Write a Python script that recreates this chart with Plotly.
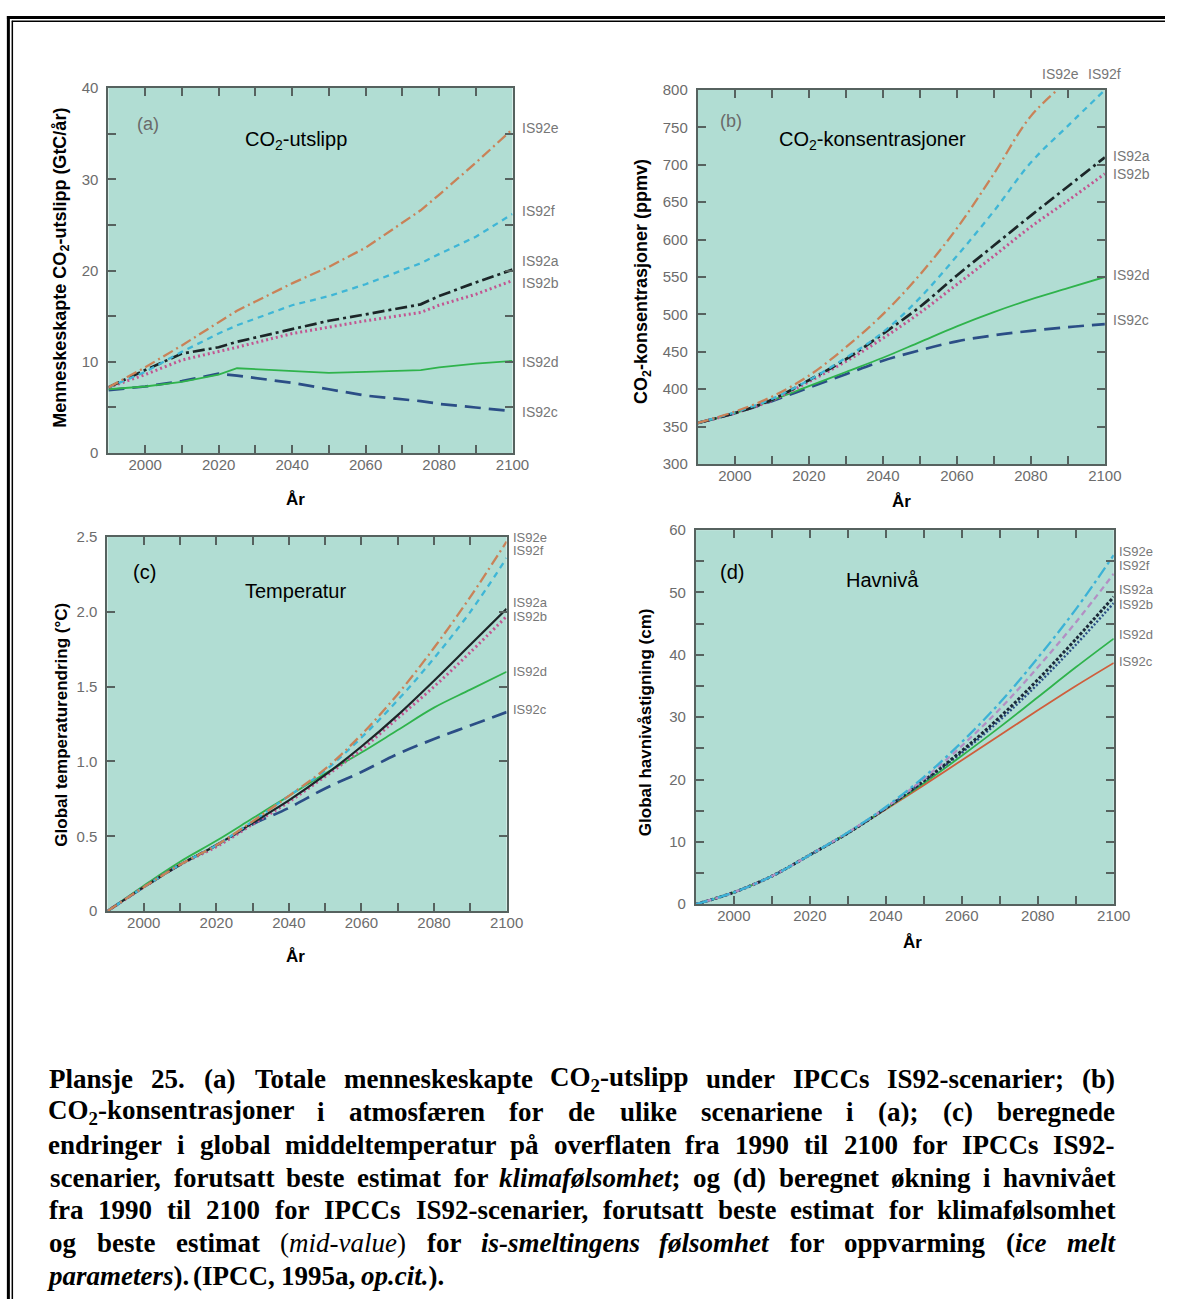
import plotly.graph_objects as go

W, H = 1182, 1307


def px(x):
    return x / W


def py(y):
    return 1 - y / H


# ---------------- data ----------------
SCENARIOS = ["IS92c", "IS92d", "IS92b", "IS92a", "IS92f", "IS92e"]

# (a) CO2 emissions, GtC/yr
EMIS_YEARS = [1990, 2000, 2010, 2020, 2025, 2040, 2050, 2060, 2075, 2080, 2090, 2100]
EMIS = {
    "IS92e": [7.2, 9.4, 11.8, 14.3, 15.6, 18.6, 20.4, 22.5, 26.6, 28.3, 31.8, 35.5],
    "IS92f": [7.2, 8.9, 11.1, 13.1, 14.0, 16.2, 17.2, 18.5, 20.8, 21.8, 23.7, 26.2],
    "IS92a": [7.2, 9.1, 10.9, 11.6, 12.2, 13.6, 14.5, 15.2, 16.3, 17.2, 18.7, 20.1],
    "IS92b": [7.2, 8.6, 10.2, 11.1, 11.6, 13.1, 13.8, 14.5, 15.4, 16.2, 17.4, 18.9],
    "IS92d": [7.0, 7.3, 7.8, 8.6, 9.3, 9.0, 8.8, 8.9, 9.1, 9.4, 9.8, 10.1],
    "IS92c": [6.9, 7.3, 7.9, 8.7, 8.5, 7.7, 7.0, 6.3, 5.7, 5.4, 5.0, 4.6],
}

YEARS = [1990, 2000, 2010, 2020, 2030, 2040, 2050, 2060, 2070, 2080, 2090, 2100]

# (b) CO2 concentration, ppmv
CONC = {
    "IS92e": [355, 370, 390, 418, 456, 500, 553, 615, 688, 765, 812],
    "IS92f": [355, 369, 387, 412, 442, 476, 522, 578, 638, 703, 752, 800],
    "IS92a": [355, 368, 386, 412, 440, 474, 510, 552, 592, 632, 671, 710],
    "IS92b": [355, 368, 385, 410, 437, 468, 502, 540, 578, 617, 652, 688],
    "IS92d": [355, 368, 385, 404, 423, 442, 463, 484, 503, 520, 535, 550],
    "IS92c": [355, 368, 384, 402, 420, 438, 452, 464, 472, 478, 483, 487],
}

# (c) temperature change, deg C
TEMP = {
    "IS92e": [0, 0.16, 0.31, 0.44, 0.60, 0.77, 0.95, 1.18, 1.45, 1.76, 2.10, 2.47],
    "IS92f": [0, 0.16, 0.31, 0.44, 0.60, 0.77, 0.94, 1.16, 1.41, 1.69, 2.00, 2.36],
    "IS92a": [0, 0.16, 0.31, 0.44, 0.59, 0.74, 0.91, 1.10, 1.31, 1.54, 1.78, 2.02],
    "IS92b": [0, 0.16, 0.31, 0.43, 0.58, 0.73, 0.90, 1.08, 1.29, 1.50, 1.73, 1.97],
    "IS92d": [0, 0.17, 0.33, 0.47, 0.62, 0.77, 0.92, 1.06, 1.21, 1.36, 1.48, 1.60],
    "IS92c": [0, 0.16, 0.31, 0.44, 0.58, 0.69, 0.82, 0.93, 1.05, 1.15, 1.24, 1.33],
}

# (d) sea level rise, cm
SEA = {
    "IS92e": [0, 1.9, 4.5, 7.9, 11.5, 15.6, 20.4, 26.0, 32.3, 39.5, 47.3, 56.0],
    "IS92f": [0, 1.9, 4.5, 7.9, 11.5, 15.5, 20.1, 25.4, 31.3, 38.0, 45.2, 53.0],
    "IS92a": [0, 1.9, 4.5, 7.9, 11.4, 15.4, 19.8, 24.6, 30.0, 36.0, 42.5, 49.3],
    "IS92b": [0, 1.9, 4.5, 7.9, 11.4, 15.4, 19.7, 24.3, 29.5, 35.3, 41.6, 48.3],
    "IS92d": [0, 1.9, 4.5, 7.9, 11.4, 15.3, 19.4, 23.8, 28.4, 33.2, 38.0, 42.6],
    "IS92c": [0, 1.9, 4.5, 7.9, 11.4, 15.2, 19.1, 23.1, 27.1, 31.1, 35.0, 38.7],
}

# right-hand scenario label heights (data units)
LAB_A = {"IS92e": 35.6, "IS92f": 26.5, "IS92a": 21.1, "IS92b": 18.6, "IS92d": 10.0, "IS92c": 4.5}
LAB_B = {"IS92a": 712, "IS92b": 688, "IS92d": 553, "IS92c": 492}
LAB_B_TOP = {"IS92e": 2088, "IS92f": 2100}
LAB_C = {"IS92e": 2.50, "IS92f": 2.41, "IS92a": 2.06, "IS92b": 1.97, "IS92d": 1.60, "IS92c": 1.35}
LAB_D = {"IS92e": 56.6, "IS92f": 54.3, "IS92a": 50.4, "IS92b": 48.1, "IS92d": 43.2, "IS92c": 38.9}

CAPTION_LINES = [
    "Plansje 25. (a) Totale menneskeskapte CO_2-utslipp under IPCCs IS92-scenarier; (b)",
    "CO_2-konsentrasjoner i atmosfæren for de ulike scenariene i (a); (c) beregnede",
    "endringer i global middeltemperatur på overflaten fra 1990 til 2100 for IPCCs IS92-",
    "scenarier, forutsatt beste estimat for *klimafølsomhet*; og (d) beregnet økning i havnivået",
    "fra 1990 til 2100 for IPCCs IS92-scenarier, forutsatt beste estimat for klimafølsomhet",
    "og beste estimat {(}~mid-value~{)} for *is-smeltingens* *følsomhet* for oppvarming (*ice* *melt*",
    "*parameters*). (IPCC, 1995a, *op.cit.*).",
]

# ---------------- styles ----------------
STYLE_ABC = {
    "IS92e": dict(color="#c98258", dash="11px,4px,2px,4px", width=2.3),
    "IS92f": dict(color="#3fb6d6", dash="6px,5px", width=2.3),
    "IS92a": dict(color="#1c2628", dash="12px,4px,3px,4px", width=2.7),
    "IS92b": dict(color="#c25591", dash="2px,3px", width=3),
    "IS92d": dict(color="#2fb34c", dash="solid", width=1.8),
    "IS92c": dict(color="#2b4e86", dash="16px,8px", width=2.7),
}
STYLE_C = dict(STYLE_ABC)
STYLE_C["IS92a"] = dict(color="#1c2628", dash="solid", width=2.2)
STYLE_D = {
    "IS92e": dict(color="#3cb2d6", dash="12px,4px,3px,4px", width=2.3),
    "IS92f": dict(color="#b38fc4", dash="6px,4px", width=2.3),
    "IS92a": dict(color="#1c2a3a", dash="3px,2px", width=3),
    "IS92b": dict(color="#2b4e86", dash="2px,2px", width=2.4),
    "IS92d": dict(color="#2fb34c", dash="solid", width=1.8),
    "IS92c": dict(color="#cf5e3c", dash="solid", width=1.8),
}

SANS = "Liberation Sans, Arial, sans-serif"
SERIF = "Liberation Serif, Times New Roman, serif"
TICK_FONT = dict(family=SANS, size=15, color="#6c6c6c")
AX_COLOR = "#56625f"
BG = "#b1ddd3"

PANELS = [
    dict(x=(110, 520), y=(80, 450)),
    dict(x=(708, 1121), y=(82, 461)),
    dict(x=(109, 514), y=(535, 914)),
    dict(x=(706, 1130), y=(528, 907)),
]

fig = go.Figure()

for i, (data, xs, sty, shape) in enumerate([
    (EMIS, EMIS_YEARS, STYLE_ABC, "linear"),
    (CONC, YEARS, STYLE_ABC, "spline"),
    (TEMP, YEARS, STYLE_C, "spline"),
    (SEA, YEARS, STYLE_D, "spline"),
]):
    sfx = "" if i == 0 else str(i + 1)
    for s in SCENARIOS:
        vals = data[s]
        fig.add_trace(go.Scatter(
            x=xs[:len(vals)], y=vals, mode="lines", showlegend=False,
            line=dict(shape=shape, **sty[s]),
            xaxis="x" + sfx, yaxis="y" + sfx, hoverinfo="skip",
        ))

layout_axes = {}
yspecs = [
    dict(range=[0, 40], tickvals=[0, 10, 20, 30, 40], minor=5),
    dict(range=[300, 800], tickvals=list(range(300, 801, 50)), minor=None),
    dict(range=[0, 2.5], tickvals=[0, 0.5, 1.0, 1.5, 2.0, 2.5],
         ticktext=["0", "0.5", "1.0", "1.5", "2.0", "2.5"], minor=None),
    dict(range=[0, 60], tickvals=[0, 10, 20, 30, 40, 50, 60], minor=5),
]
for i, p in enumerate(PANELS):
    sfx = "" if i == 0 else str(i + 1)
    common = dict(showline=True, linecolor=AX_COLOR, linewidth=2, mirror="allticks",
                  ticks="inside", ticklen=8, tickwidth=1.5, tickcolor=AX_COLOR,
                  showgrid=False, zeroline=False, tickfont=TICK_FONT)
    xa = dict(common, domain=[px(p["x"][0]), px(p["x"][1])], range=[1990, 2100],
              tickvals=[2000, 2020, 2040, 2060, 2080, 2100], ticklabelstandoff=-3,
              minor=dict(ticks="inside", ticklen=8, tickwidth=1.5, tickcolor=AX_COLOR, dtick=10, tick0=1990),
              anchor="y" + sfx)
    ys = yspecs[i]
    ya = dict(common, domain=[py(p["y"][1]), py(p["y"][0])], range=ys["range"],
              tickvals=ys["tickvals"], ticklabelstandoff=5, anchor="x" + sfx)
    if "ticktext" in ys:
        ya["ticktext"] = ys["ticktext"]
    if ys["minor"]:
        ya["minor"] = dict(ticks="inside", ticklen=8, tickwidth=1.5, tickcolor=AX_COLOR,
                           dtick=ys["minor"], tick0=0)
    layout_axes["xaxis" + sfx] = xa
    layout_axes["yaxis" + sfx] = ya

ann = []


def txt(x, y, text, size, color="black", bold=False, angle=0, xanchor="center", family=SANS):
    t = "<b>" + text + "</b>" if bold else text
    ann.append(dict(x=px(x), y=py(y), xref="paper", yref="paper", text=t, showarrow=False,
                    textangle=angle, xanchor=xanchor, yanchor="middle",
                    font=dict(family=family, size=size, color=color)))


# axis titles
txt(62, 262, "Menneskeskapte CO<sub>2</sub>-utslipp (GtC/år)", 18, bold=True, angle=-90)
txt(652, 276, "CO<sub>2</sub>-konsentrasjoner (ppmv)", 18, bold=True, angle=-90)
txt(62, 725, "Global temperaturendring (°C)", 17, bold=True, angle=-90)
txt(655, 723, "Global havnivåstigning (cm)", 17, bold=True, angle=-90)
txt(300, 497, "År", 17, bold=True)
txt(915, 499, "År", 17, bold=True)
txt(300, 960, "År", 17, bold=True)
txt(926, 946, "År", 17, bold=True)

# panel letters and titles
txt(150, 117, "(a)", 18, color="#6a6a6a")
txt(742, 113, "(b)", 18, color="#6a6a6a")
txt(147, 570, "(c)", 20)
txt(743, 570, "(d)", 20)
txt(300, 133, "CO<sub>2</sub>-utslipp", 20)
txt(885, 133, "CO<sub>2</sub>-konsentrasjoner", 20)
txt(300, 590, "Temperatur", 20)
txt(895, 579, "Havnivå", 20)

LAB_COLOR = "#777777"
for lab, yref, xstart, size in [(LAB_A, "y", 528, 14), (LAB_B, "y2", 1127, 14),
                                 (LAB_C, "y3", 518, 13), (LAB_D, "y4", 1133, 13)]:
    for s, v in lab.items():
        ann.append(dict(x=px(xstart), y=v, xref="paper", yref=yref, text=s, showarrow=False,
                        xanchor="left", yanchor="middle",
                        font=dict(family=SANS, size=size, color=LAB_COLOR)))
for s, yr in LAB_B_TOP.items():
    ann.append(dict(x=yr, y=py(66), xref="x2", yref="paper", text=s, showarrow=False,
                    xanchor="center", yanchor="middle",
                    font=dict(family=SANS, size=14, color=LAB_COLOR)))

# ---------------- caption (justified, word by word) ----------------
TB = {' ': 250, '(': 333, ')': 333, ',': 250, '-': 333, '.': 250, ';': 333, ':': 333,
      'A': 722, 'B': 667, 'C': 722, 'D': 722, 'E': 667, 'F': 611, 'G': 778, 'H': 778, 'I': 389,
      'J': 500, 'K': 778, 'L': 667, 'M': 944, 'N': 722, 'O': 778, 'P': 611, 'Q': 778, 'R': 722,
      'S': 556, 'T': 667, 'U': 722, 'V': 722, 'W': 1000, 'X': 722, 'Y': 722, 'Z': 667,
      'a': 500, 'b': 556, 'c': 444, 'd': 556, 'e': 444, 'f': 333, 'g': 500, 'h': 556, 'i': 278,
      'j': 333, 'k': 556, 'l': 278, 'm': 833, 'n': 556, 'o': 500, 'p': 556, 'q': 556, 'r': 444,
      's': 389, 't': 333, 'u': 556, 'v': 500, 'w': 722, 'x': 500, 'y': 500, 'z': 444,
      'æ': 722, 'ø': 500, 'å': 500}
TBI = dict(TB)
TBI.update({'b': 500, 'd': 500, 'j': 278, 'k': 500, 'm': 778, 'p': 500, 'q': 500, 'r': 389,
            't': 278, 'v': 444, 'w': 667, 'y': 444, 'z': 389})
TI = dict(TBI)
TI.update({'m': 722, 'u': 500, 'n': 500, 'h': 500})
TR = dict(TB)


def parse_word(word):
    segs, cur = [], ""
    st = {"bi": False, "i": False, "r": False}

    def style():
        return "bi" if st["bi"] else ("i" if st["i"] else ("r" if st["r"] else "b"))

    k = 0
    while k < len(word):
        ch = word[k]
        if ch in "*~{}_":
            if cur:
                segs.append((cur, style()))
                cur = ""
            if ch == "*":
                st["bi"] = not st["bi"]
            elif ch == "~":
                st["i"] = not st["i"]
            elif ch == "{":
                st["r"] = True
            elif ch == "}":
                st["r"] = False
            else:
                segs.append((word[k + 1], "sub"))
                k += 1
        else:
            cur += ch
        k += 1
    if cur:
        segs.append((cur, style()))
    return segs


def seg_html(t, s):
    return {"b": "<b>%s</b>", "bi": "<b><i>%s</i></b>", "i": "<i>%s</i>",
            "r": "%s", "sub": "<b><sub>%s</sub></b>"}[s] % t


def seg_width(t, s, fs):
    table = {"b": TB, "bi": TBI, "i": TI, "r": TR, "sub": TB}[s]
    w = sum(table.get(c, 500) for c in t) * fs / 1000
    return w * 0.7 if s == "sub" else w


CAP_FS = 27
CAP_X0, CAP_X1 = 50, 1131
CAP_Y0, CAP_DY = 1084, 33.3
for li, line in enumerate(CAPTION_LINES):
    words = line.split(" ")
    parsed = [parse_word(w) for w in words]
    widths = [sum(seg_width(t, s, CAP_FS) for t, s in p) for p in parsed]
    last = li == len(CAPTION_LINES) - 1
    gap = 0.25 * CAP_FS if last else (CAP_X1 - CAP_X0 - sum(widths)) / (len(words) - 1)
    x = CAP_X0
    yy = CAP_Y0 + li * CAP_DY
    for p, w in zip(parsed, widths):
        html = "".join(seg_html(t, s) for t, s in p)
        ann.append(dict(x=px(x + w / 2), y=py(yy), xref="paper", yref="paper", text=html,
                        showarrow=False, xanchor="center", yanchor="middle",
                        font=dict(family=SERIF, size=CAP_FS, color="black")))
        x += w + gap

# ---------------- frame ----------------
shapes = [
    dict(type="line", xref="paper", yref="paper", x0=px(7), x1=1, y0=py(8.5), y1=py(8.5),
         line=dict(color="black", width=3)),
    dict(type="line", xref="paper", yref="paper", x0=px(12), x1=1, y0=py(12.5), y1=py(12.5),
         line=dict(color="black", width=1.5)),
    dict(type="line", xref="paper", yref="paper", x0=px(8.5), x1=px(8.5), y0=py(7), y1=0,
         line=dict(color="black", width=3)),
    dict(type="line", xref="paper", yref="paper", x0=px(12.5), x1=px(12.5), y0=py(12), y1=0,
         line=dict(color="black", width=1.5)),
]

fig.update_layout(
    width=W, height=H, margin=dict(l=0, r=0, t=0, b=0),
    paper_bgcolor="white", plot_bgcolor=BG,
    annotations=ann, shapes=shapes, showlegend=False,
    **layout_axes,
)

fig.write_html("out.html")
